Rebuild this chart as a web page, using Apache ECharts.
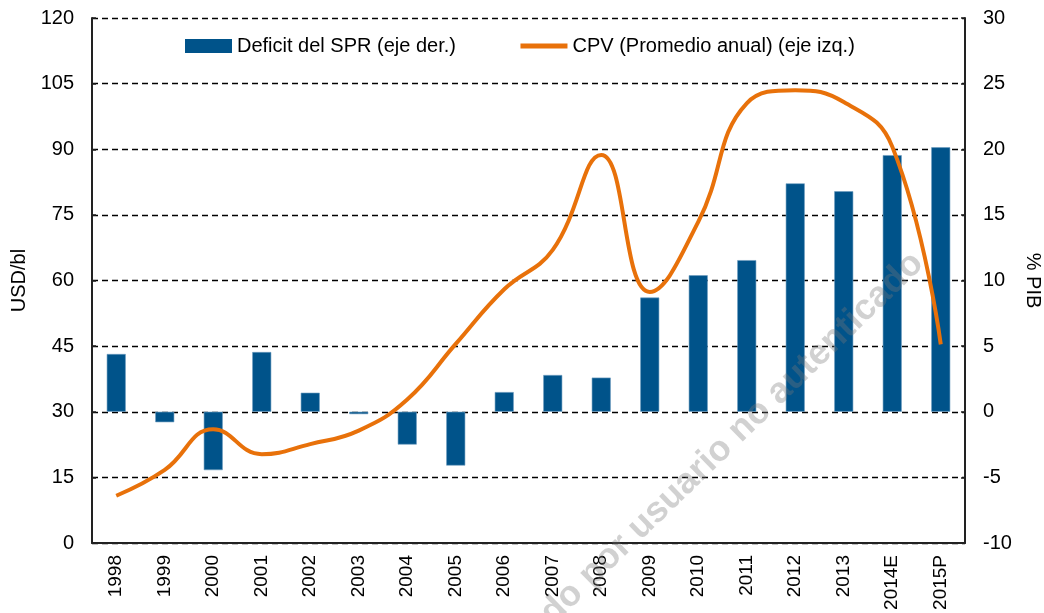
<!DOCTYPE html>
<html>
<head>
<meta charset="utf-8">
<script src="https://cdn.jsdelivr.net/npm/echarts@6/dist/echarts.min.js"></script>
<style>
html,body{margin:0;padding:0;background:#fff;}
#chart{width:1044px;height:613px;}
</style>
</head>
<body>
<div id="chart"></div>
<script>
var categories = ['1998','1999','2000','2001','2002','2003','2004','2005','2006','2007','2008','2009','2010','2011','2012','2013','2014E','2015P'];
var deficitSPR = [4.4, -0.8, -4.45, 4.55, 1.45, -0.18, -2.5, -4.1, 1.5, 2.8, 2.6, 8.7, 10.4, 11.55, 17.4, 16.8, 19.55, 20.15];
var cpv = [10.8, 16.7, 26.0, 20.3, 22.6, 25.7, 32.8, 45.5, 58.0, 67.0, 88.7, 57.4, 73.4, 100.5, 103.5, 100.8, 90.6, 45.4];
var leftTicks = {min: 0, max: 120, interval: 15};
var rightTicks = {min: -10, max: 30, interval: 5};
var seriesNames = ['Deficit del SPR (eje der.)', 'CPV (Promedio anual) (eje izq.)'];
var axisNames = ['USD/bl', '% PIB'];
var watermark = 'Documento descargado por usuario no autenticado';

var FONT = 'Liberation Sans, Arial, sans-serif';
var chart = echarts.init(document.getElementById('chart'), null, {renderer: 'canvas'});
chart.setOption({
  animation: false,
  backgroundColor: '#ffffff',
  textStyle: {fontFamily: FONT, color: '#000'},
  grid: {left: 92, right: 79, top: 18, bottom: 70, containLabel: false, outerBoundsMode: 'none'},
  legend: {
    left: 180, top: 31,
    itemWidth: 47, itemHeight: 14, itemGap: 62,
    textStyle: {fontFamily: FONT, fontSize: 20, color: '#000'},
    data: [
      {name: seriesNames[0], icon: 'rect', itemStyle: {borderWidth: 0}},
      {name: seriesNames[1], itemStyle: {opacity: 0, color: 'transparent', borderWidth: 0}, lineStyle: {width: 5, color: '#E8710A'}}
    ]
  },
  xAxis: {
    type: 'category',
    data: categories,
    boundaryGap: true,
    axisLine: {onZero: false, lineStyle: {color: '#222', width: 2}},
    axisTick: {show: false},
    axisLabel: {rotate: 90, margin: 12, fontSize: 19, color: '#000', fontFamily: FONT},
    splitLine: {show: false}
  },
  yAxis: [
    {
      type: 'value', position: 'left',
      min: leftTicks.min, max: leftTicks.max, interval: leftTicks.interval,
      name: axisNames[0], nameLocation: 'middle', nameGap: 55, nameRotate: 90,
      nameTextStyle: {fontSize: 20, color: '#000', fontFamily: FONT},
      axisLine: {show: true, lineStyle: {color: '#222', width: 2}},
      axisTick: {show: true, inside: true, length: 4, lineStyle: {color: '#222', width: 1.5}},
      axisLabel: {margin: 18, fontSize: 20, color: '#000', fontFamily: FONT},
      splitLine: {show: true, lineStyle: {color: '#000', width: 1.3, type: [6, 4]}}
    },
    {
      type: 'value', position: 'right',
      min: rightTicks.min, max: rightTicks.max, interval: rightTicks.interval,
      name: axisNames[1], nameLocation: 'middle', nameGap: 50, nameRotate: -90,
      nameTextStyle: {fontSize: 20, color: '#000', fontFamily: FONT},
      axisLine: {show: true, lineStyle: {color: '#222', width: 2}},
      axisTick: {show: true, inside: true, length: 4, lineStyle: {color: '#222', width: 1.5}},
      axisLabel: {margin: 18, fontSize: 20, color: '#000', fontFamily: FONT},
      splitLine: {show: false}
    }
  ],
  series: [
    {
      name: seriesNames[0],
      type: 'bar',
      yAxisIndex: 1,
      data: deficitSPR,
      barWidth: 19,
      itemStyle: {color: '#00538A', borderColor: '#6d9cc0', borderWidth: 0.6},
      z: 2
    },
    {
      name: seriesNames[1],
      type: 'line',
      yAxisIndex: 0,
      data: cpv,
      smooth: 0.45,
      symbol: 'none',
      lineStyle: {color: '#E8710A', width: 4},
      itemStyle: {color: '#E8710A'},
      z: 3
    }
  ],
  graphic: [
    {
      type: 'text',
      x: 918, y: 258,
      rotation: 0.77,
      z: 100,
      silent: true,
      style: {
        text: watermark,
        fill: 'rgba(120,120,120,0.34)',
        font: 'bold 36px ' + FONT,
        textAlign: 'right',
        textVerticalAlign: 'middle'
      }
    }
  ]
});
</script>
</body>
</html>
